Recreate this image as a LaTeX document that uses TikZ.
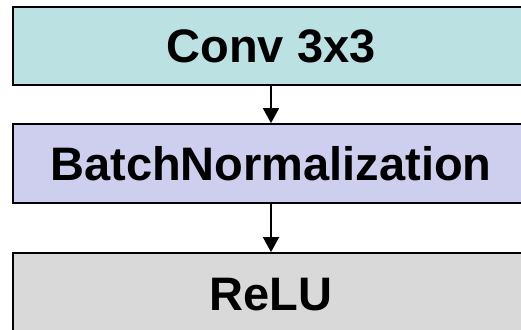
\documentclass[tikz,border=0pt]{standalone}
\usepackage{fontspec}
\setmainfont{Liberation Sans}
\usetikzlibrary{arrows.meta}
\begin{document}
\begin{tikzpicture}[x=1pt,y=1pt,
  layerbox/.style={draw=black, line width=1.8pt, minimum width=516pt,
    inner sep=0pt, font=\fontsize{47}{50}\selectfont\bfseries},
  flow/.style={-{Triangle[width=16pt,length=15pt]}, line width=1.8pt}]
\useasboundingbox (0,0) rectangle (521,329);
\clip (0,0) rectangle (521,329);
% layer stack, top to bottom
\node[layerbox, fill={rgb,255:red,188;green,225;blue,227}, minimum height=78pt]
  (conv) at (271,283) {Conv 3x3};
\node[layerbox, fill={rgb,255:red,206;green,206;blue,238}, minimum height=79pt]
  (bn) at (271,165.5) {BatchNormalization};
\node[layerbox, fill={rgb,255:red,217;green,217;blue,217}, minimum height=84pt]
  (relu) at (271,34) {ReLU};
% data flow between layers
\draw[flow] (conv.south) -- (bn.north);
\draw[flow] (bn.south) -- (relu.north);
\end{tikzpicture}
\end{document}
